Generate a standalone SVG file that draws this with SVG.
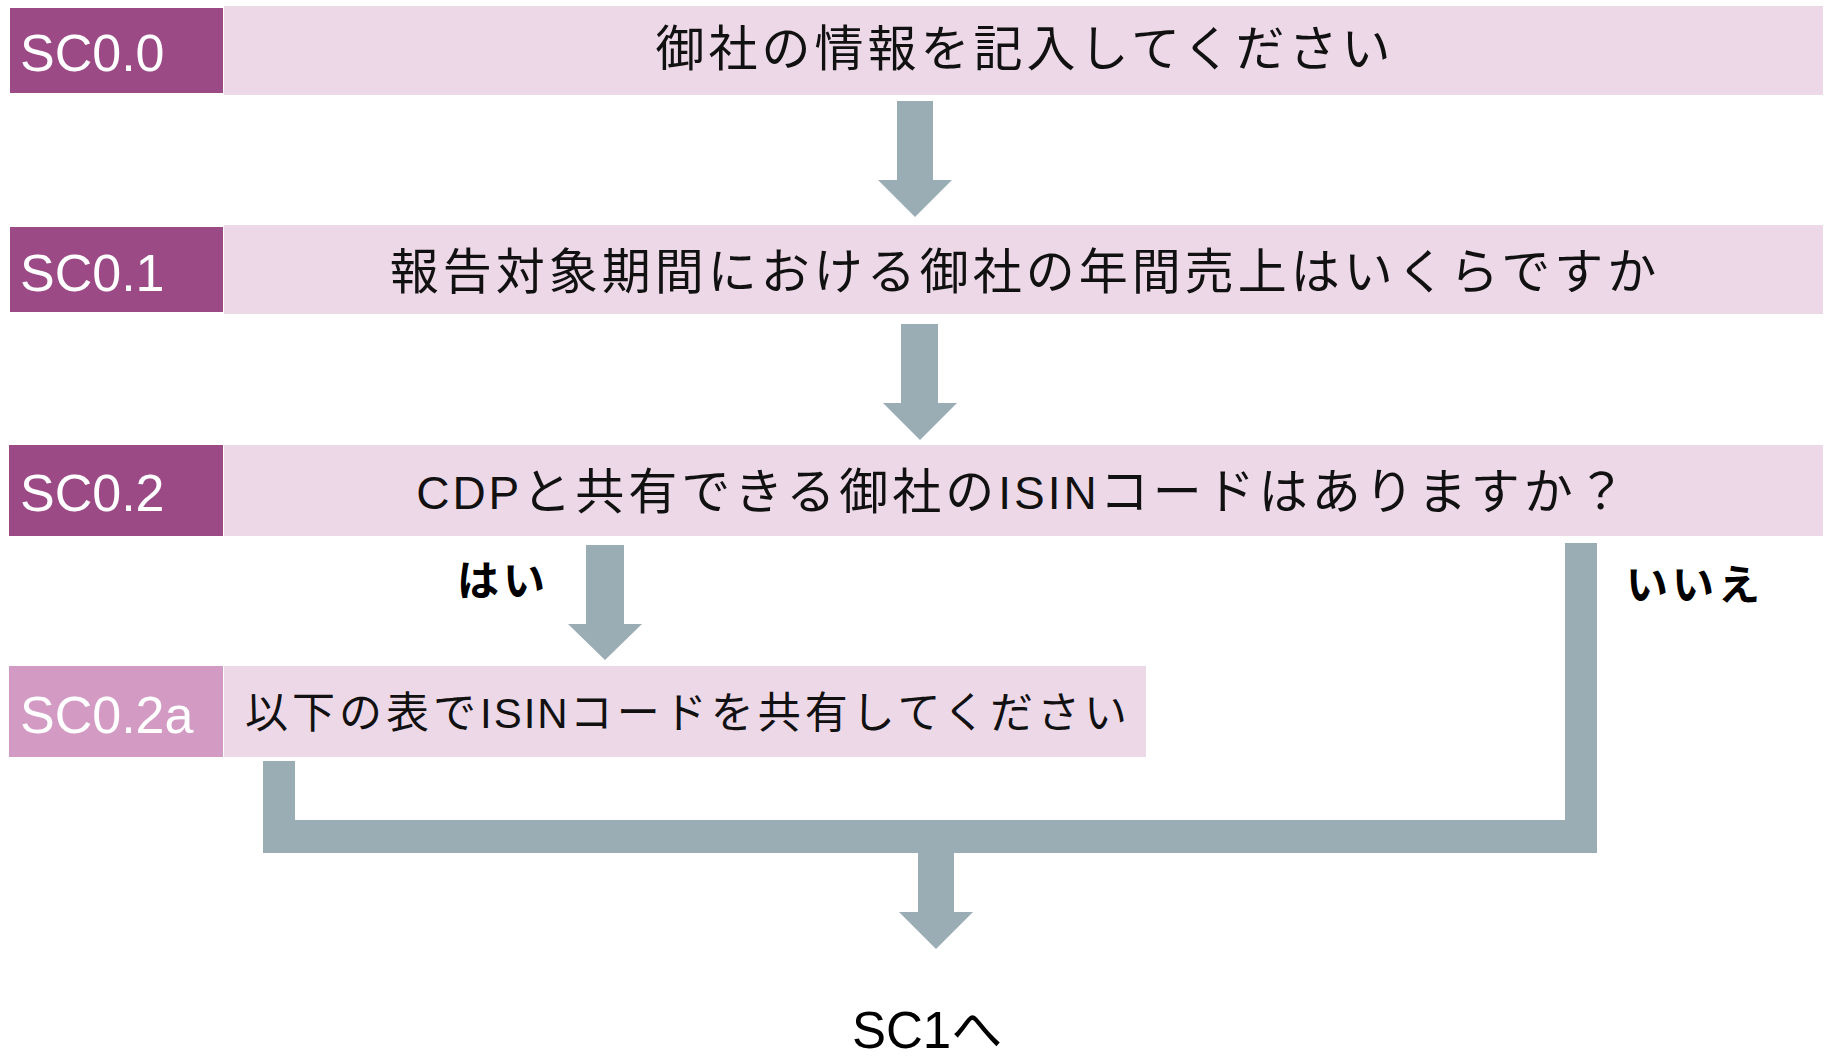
<svg xmlns="http://www.w3.org/2000/svg" width="1830" height="1056" viewBox="0 0 1830 1056">
<style>
.pink{fill:#EDD8E8}
.lab{fill:#9B4A86}
.lab2{fill:#D39BC4}
.labt{font-family:"Liberation Sans","Noto Sans CJK JP",sans-serif;font-size:52px;fill:#FFFFFF}
.q{font-family:"Noto Sans CJK JP","Liberation Sans",sans-serif;font-size:49px;fill:#111111;letter-spacing:4px}
.q2{font-family:"Noto Sans CJK JP","Liberation Sans",sans-serif;font-size:43px;fill:#111111;letter-spacing:4px}
.lat{font-family:"Liberation Sans",sans-serif;letter-spacing:3px;font-size:46px}
.lat2{font-family:"Liberation Sans",sans-serif;letter-spacing:2px;font-size:42px}
.yn{font-family:"Noto Sans CJK JP",sans-serif;font-size:42px;font-weight:bold;fill:#000000;letter-spacing:4px}
.end{font-family:"Liberation Sans","Noto Sans CJK JP",sans-serif;font-size:51px;fill:#000000}
.arr{fill:#9AADB5}
</style>
<rect width="1830" height="1056" fill="#FFFFFF"/>
<g id="sc00">
<rect class="pink" x="224" y="6" width="1599" height="89"/>
<rect class="lab" x="10" y="8" width="213" height="85"/>
<text class="labt" x="20" y="71">SC0.0</text>
<text class="q" x="1025" y="66" text-anchor="middle">御社の情報を記入してください</text>
</g>
<g id="sc01">
<rect class="pink" x="224" y="225" width="1599" height="89"/>
<rect class="lab" x="10" y="227" width="213" height="85"/>
<text class="labt" x="20" y="291">SC0.1</text>
<text class="q" x="1025" y="289" text-anchor="middle">報告対象期間における御社の年間売上はいくらですか</text>
</g>
<g id="sc02">
<rect class="pink" x="224" y="445" width="1599" height="91"/>
<rect class="lab" x="9" y="445" width="214" height="91"/>
<text class="labt" x="20" y="511">SC0.2</text>
<text class="q" x="1023" y="509" text-anchor="middle"><tspan class="lat">CDP</tspan>と共有できる御社の<tspan class="lat">ISIN</tspan>コードはありますか？</text>
</g>
<g id="sc02a">
<rect class="pink" x="224" y="666" width="922" height="91"/>
<rect class="lab2" x="9" y="666" width="214" height="91"/>
<text class="labt" x="20" y="733">SC0.2a</text>
<text class="q2" x="245" y="728"><tspan>以下の表で</tspan><tspan class="lat2">ISIN</tspan><tspan>コードを共有してください</tspan></text>
</g>
<g id="connectors">
<polygon class="arr" points="897,101 933,101 933,180 952,180 915,217 878,180 897,180"/>
<polygon class="arr" points="901,324 938,324 938,403 957,403 920,440 883,403 901,403"/>
<polygon class="arr" points="586,545 624,545 624,624 642,624 605,660 568,624 586,624"/>
<polygon class="arr" points="263,761 295,761 295,820 1565,820 1565,543 1597,543 1597,853 954,853 954,912 973,912 936,949 899,912 918,912 918,853 263,853"/>
<text class="yn" x="457" y="596">はい</text>
<text class="yn" x="1626" y="600">いいえ</text>
</g>
<g id="sc1">
<text class="end" x="852" y="1048">SC1へ</text>
</g>
</svg>
